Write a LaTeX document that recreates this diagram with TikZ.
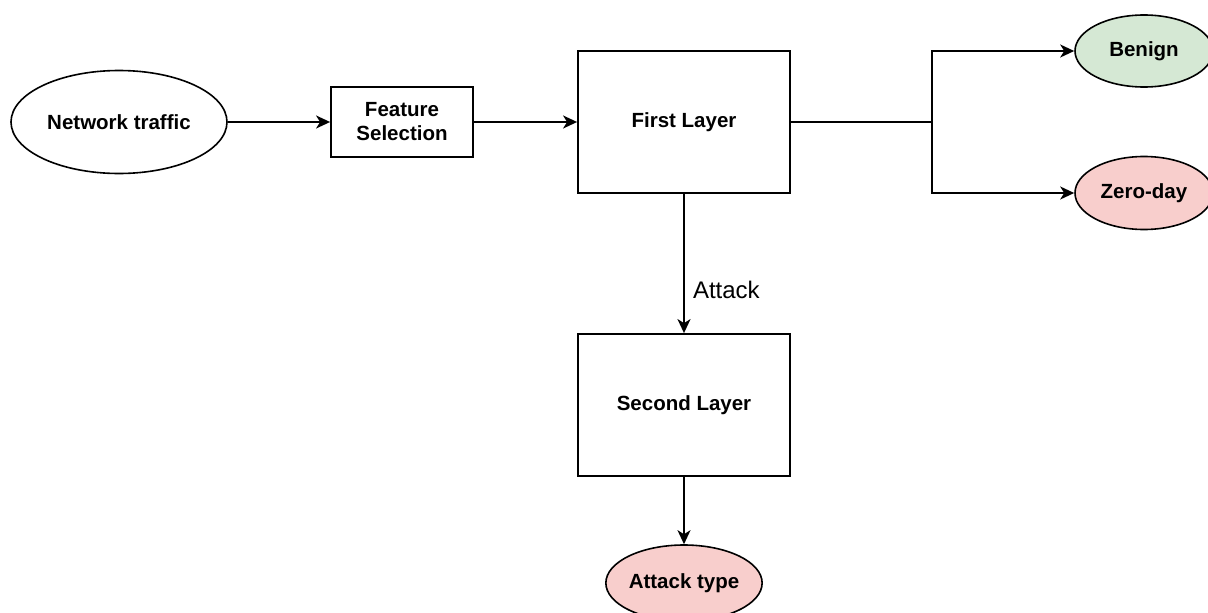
\documentclass[tikz,border=0pt]{standalone}
\usepackage{fontspec}
\setmainfont{Liberation Sans}
\usetikzlibrary{shapes.geometric,arrows.meta}
\definecolor{benignfill}{HTML}{D5E8D4}
\definecolor{redfill}{HTML}{F8CECC}
\tikzset{
  lbl/.style={font=\bfseries\fontsize{20.5}{24}\selectfont, align=center, inner sep=0pt},
  box/.style={lbl, draw=black, line width=1.8pt, rectangle},
  oval/.style={lbl, draw=black, line width=1.6pt, ellipse},
  wire/.style={line width=2pt},
  conn/.style={wire, -{Stealth[length=14pt,width=13pt,inset=4pt]}}
}
\begin{document}
\begin{tikzpicture}[x=1pt,y=1pt]
\useasboundingbox (0,0) rectangle (1208,-613);
\clip (0,0) rectangle (1208,-613);
\node[oval, minimum width=216pt, minimum height=103pt] (nt) at (119,-122) {Network traffic};
\node[box, minimum width=142pt, minimum height=70pt] (fs) at (402,-122) {Feature\\Selection};
\node[box, minimum width=212pt, minimum height=142pt] (fl) at (684,-122) {First Layer};
\node[box, minimum width=212pt, minimum height=142pt] (sl) at (684,-405) {Second Layer};
\node[oval, fill=benignfill, minimum width=138pt, minimum height=72pt] (be) at (1144,-51) {Benign};
\node[oval, fill=redfill, minimum width=138pt, minimum height=73pt] (zd) at (1144,-193) {Zero-day};
\node[oval, fill=redfill, minimum width=144pt, minimum height=76pt] (at) at (684,-583) {Attack type};
\coordinate (j) at (932,-122);
\draw[conn] (nt.east) -- (fs.west);
\draw[conn] (fs.east) -- (fl.west);
\draw[wire] (fl.east) -- (j);
\draw[conn] (j) |- (be.west);
\draw[conn] (j) |- (zd.west);
\draw[conn] (fl.south) -- node[pos=0.69, anchor=west, xshift=8pt, inner sep=0pt, font=\fontsize{24}{28}\selectfont] (atk) {Attack} (sl.north);
\draw[conn] (sl.south) -- (at.north);
\end{tikzpicture}
\end{document}
